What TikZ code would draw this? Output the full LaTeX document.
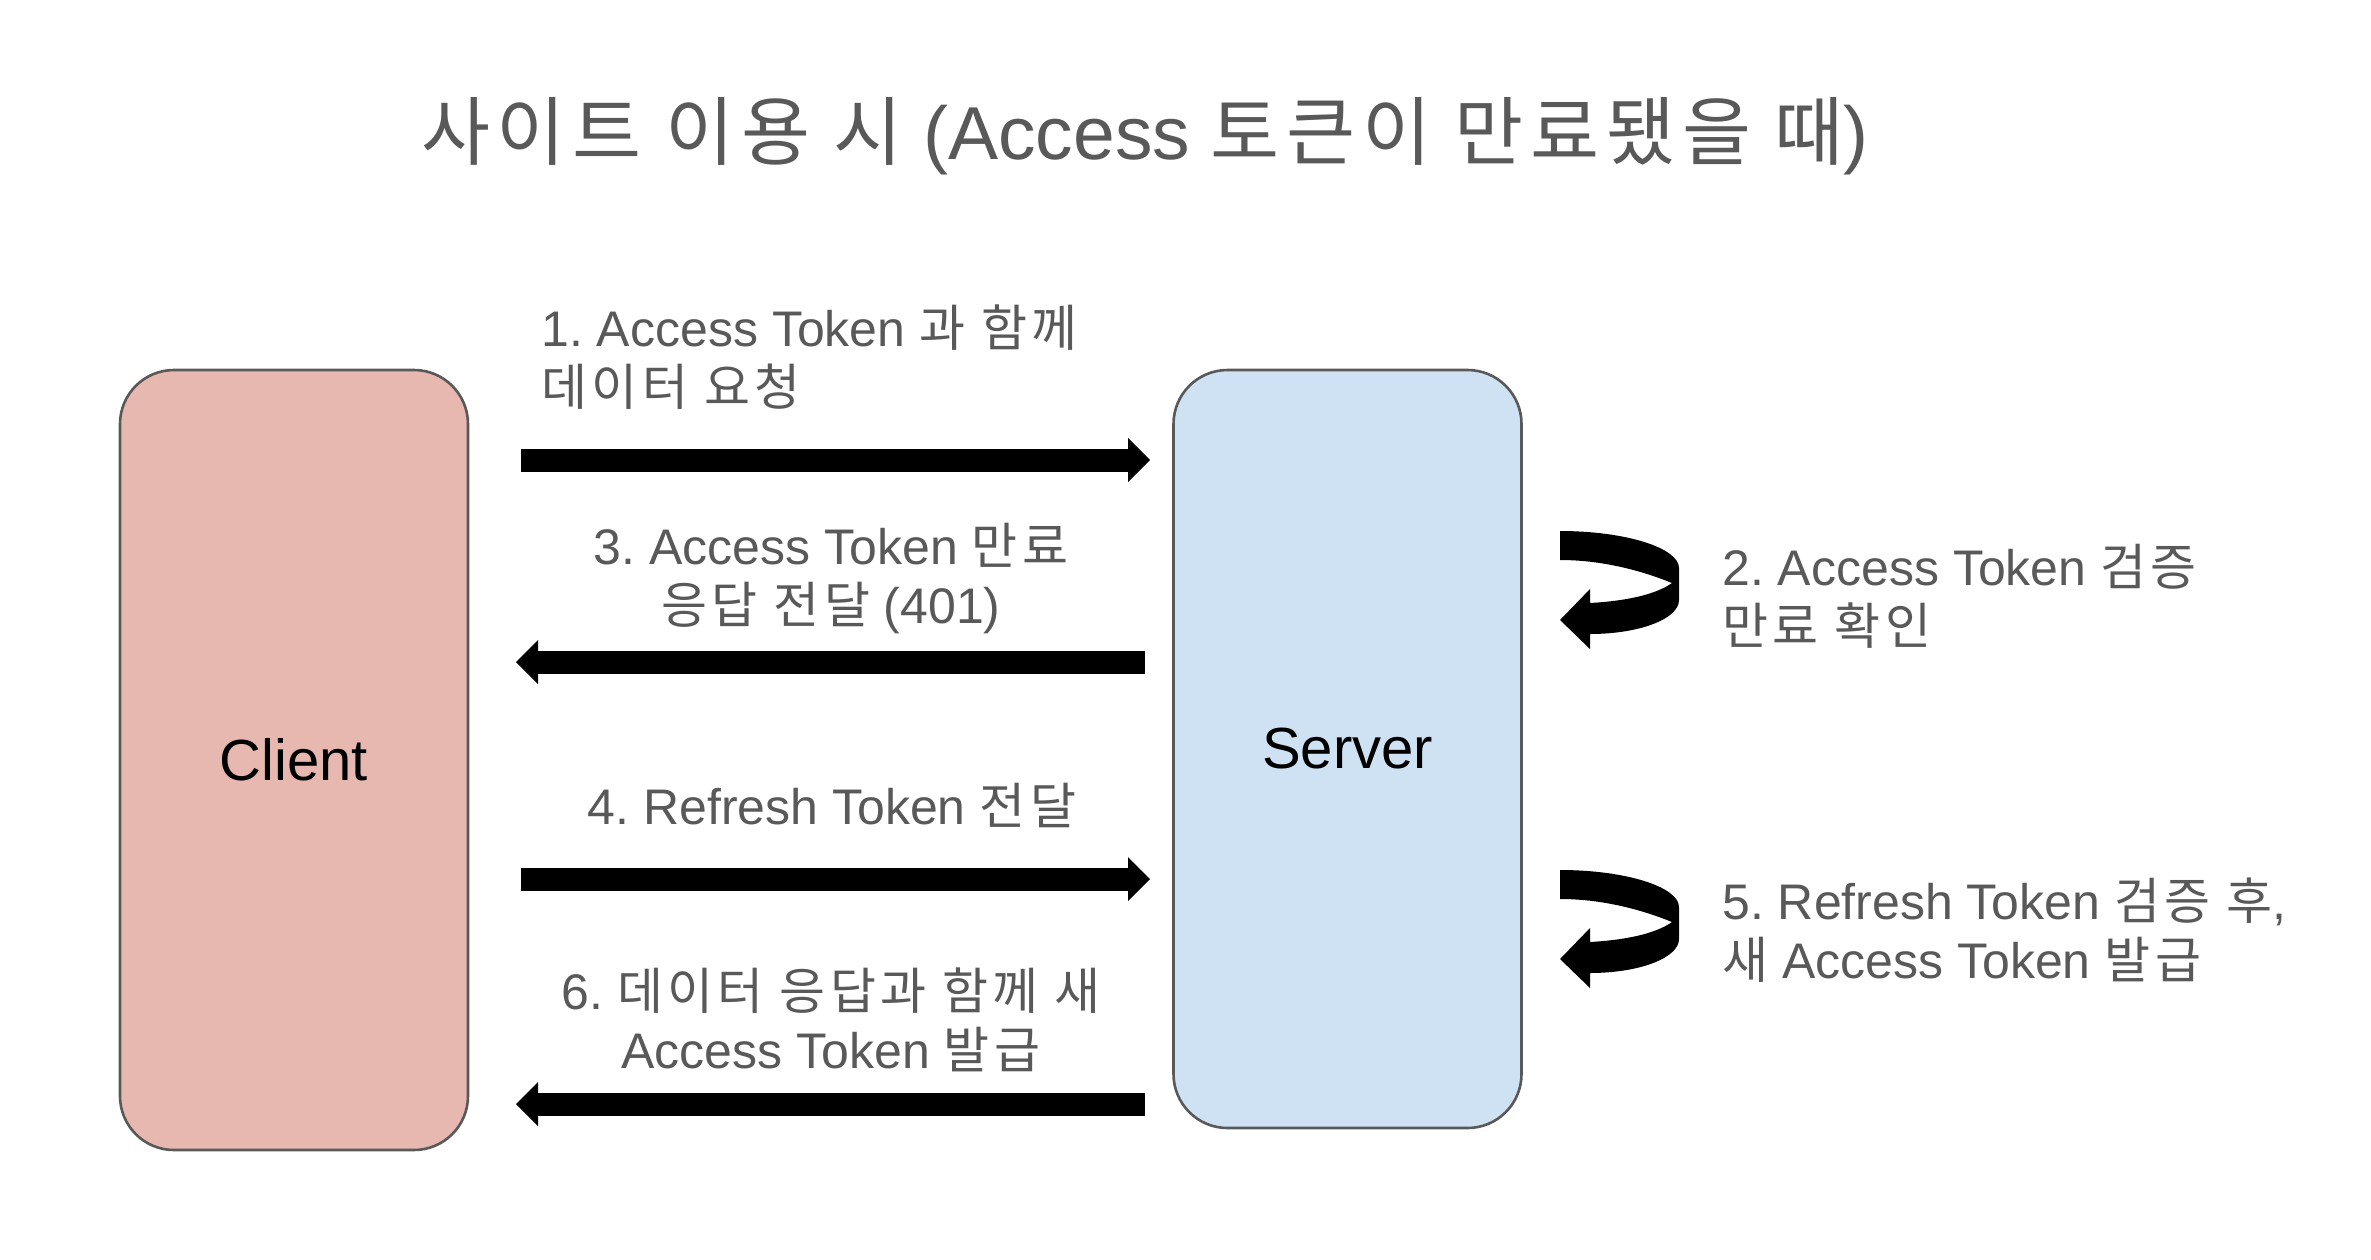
\documentclass[tikz,border=0pt]{standalone}
\usepackage{fontspec}
\usepackage{tikz}
\usetikzlibrary{arrows.meta}
\setmainfont{Liberation Sans}
\newfontfamily\krfont[LetterSpace=9]{Noto Sans CJK KR}
\frenchspacing
\definecolor{clientred}{HTML}{E6B8AF}
\definecolor{serverblue}{HTML}{CFE2F3}
\definecolor{linegray}{HTML}{595959}
\tikzset{>/.tip={Triangle[length=11pt,width=22pt,line width=0pt]}}
\tikzset{
  box/.style={draw=linegray, line width=1.3pt, rounded corners=27pt, minimum width=174pt, text=black, font=\fontsize{29}{35}\selectfont},
  lbl/.style={text=linegray, inner sep=0pt, font=\fontsize{25}{29.5}\selectfont},
  flow/.style={->, line width=11.5pt},
}
\newcommand{\kor}[1]{{\krfont #1}}
\newcommand{\turnarrow}[1]{%
  \fill[shift={(0,#1)}] (1560,531) .. controls (1626,531) and (1679,548) .. (1679,568)
    -- (1679,600) .. controls (1679,619) and (1639,634) .. (1590,634)
    -- (1590,649) -- (1560,620) -- (1590,589) -- (1590,603)
    .. controls (1625,601) and (1655,595) .. (1672,583)
    .. controls (1645,572) and (1605,560) .. (1560,560) -- cycle;}

\begin{document}
\begin{tikzpicture}[x=0.5pt, y=-0.5pt]
\useasboundingbox (0,0) rectangle (2371,1259);

\node[lbl, font=\fontsize{37.5}{44}\selectfont] (title) at (1145,136) {\kor{사이트 이용 시} (Access \kor{토큰이 만료됐을 때})};

\node[box, fill=clientred, minimum height=390pt] (client) at (294,760) {Client};
\node[box, fill=serverblue, minimum height=379pt] (server) at (1347.5,749) {Server};

% requests and responses
\coordinate (req1) at (521,460);   \coordinate (req1end) at (1150,460);
\coordinate (res3) at (1145,662);  \coordinate (res3end) at (516,662);
\coordinate (req4) at (521,879);   \coordinate (req4end) at (1150,879);
\coordinate (res6) at (1145,1104); \coordinate (res6end) at (516,1104);

\draw[flow] (req1) to (req1end);
\draw[flow] (res3) to (res3end);
\draw[flow] (req4) to (req4end);
\draw[flow] (res6) to (res6end);

\node[lbl, anchor=west, align=left] (l1) at (541,357) {1. Access Token \kor{과 함께}\\\kor{데이터 요청}};
\node[lbl, align=center] (l3) at (831,578) {3. Access Token \kor{만료}\\\kor{응답 전달} (401)};
\node[lbl] (l4) at (832,805) {4. Refresh Token \kor{전달}};
\node[lbl, align=center] (l6) at (831,1020) {6. \kor{데이터 응답과 함께 새}\\Access Token \kor{발급}};

% checks on the server
\turnarrow{0}
\turnarrow{339}
\node[lbl, anchor=west, align=left] (l2) at (1722,596) {2. Access Token \kor{검증}\\\kor{만료 확인}};
\node[lbl, anchor=west, align=left] (l5) at (1722,930) {5. Refresh Token \kor{검증 후},\\\kor{새} Access Token \kor{발급}};
\end{tikzpicture}
\end{document}
